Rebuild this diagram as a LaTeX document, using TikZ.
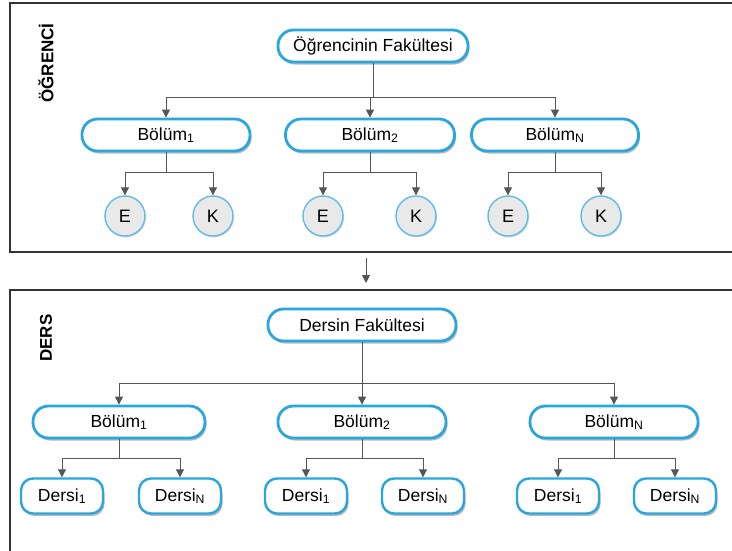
\documentclass[tikz,border=0pt]{standalone}
\usepackage{fontspec}
\setmainfont{Liberation Sans}
\usetikzlibrary{shadows,arrows.meta}
\definecolor{edgeblue}{HTML}{2AA6DE}
\definecolor{lineg}{HTML}{555555}
\definecolor{circfill}{HTML}{E9E9E9}
\definecolor{framec}{HTML}{333333}
\tikzset{
  box/.style={draw=edgeblue, line width=2.8pt, fill=white, rounded corners=15.5pt,
    minimum height=32pt, inner sep=0pt, font=\fontsize{17.5}{20}\selectfont,
    drop shadow={shadow xshift=1.5pt, shadow yshift=-2.5pt, opacity=0.45, fill=black!60}},
  subbox/.style={draw=edgeblue, line width=2.4pt, fill=white, rounded corners=12pt,
    minimum width=82pt, minimum height=35pt, inner sep=0pt, font=\fontsize{17.5}{20}\selectfont,
    drop shadow={shadow xshift=1.5pt, shadow yshift=-2.5pt, opacity=0.45, fill=black!60}},
  leaf/.style={circle, draw=edgeblue!75, line width=1.4pt, fill=circfill, minimum size=40pt,
    inner sep=0pt, font=\fontsize{18}{20}\selectfont,
    drop shadow={shadow xshift=1pt, shadow yshift=-1.5pt, opacity=0.3}},
  conn/.style={draw=lineg, line width=1pt},
  arr/.style={conn, -{Triangle[length=8pt,width=8pt]}},
  frame/.style={draw=framec, line width=1.6pt},
  side/.style={rotate=90, font=\bfseries\fontsize{17}{20}\selectfont}
}
\begin{document}
\begin{tikzpicture}[x=1pt,y=-1pt]
\useasboundingbox (0,0) rectangle (732,550);
% panels
\draw[frame] (740,3) -- (10,3) -- (10,252) -- (740,252);
\draw[frame] (740,290) -- (10,290) -- (10,560);
\node[side] (lab1) at (46,63) {ÖĞRENCİ};
\node[side] (lab2) at (46,338) {DERS};
\coordinate (p1) at (366,258);
\coordinate (p2) at (366,283);
\draw[arr] (p1) -- (p2);

% upper tree
\node[box, minimum width=190pt] (of) at (373,46) {Öğrencinin Fakültesi};
\node[box, minimum width=168pt] (ob1) at (166,135) {Bölüm\textsubscript{1}};
\node[box, minimum width=169pt] (ob2) at (370,135) {Bölüm\textsubscript{2}};
\node[box, minimum width=167pt] (obn) at (555,135) {Bölüm\textsubscript{N}};
\coordinate (oj) at (373,97);
\draw[conn] (of) -- (oj);
\foreach \b in {ob1,ob2,obn}{\draw[arr] (oj) -| (\b.north);}

\foreach \b/\e/\k in {ob1/125/213, ob2/323/416, obn/508/601}{
  \node[leaf] (\b e) at (\e,216) {E};
  \node[leaf] (\b k) at (\k,216) {K};
  \coordinate (\b j) at (\b.south |- 0,172);
  \draw[conn] (\b) -- (\b j);
  \draw[arr] (\b j) -| (\b e.north);
  \draw[arr] (\b j) -| (\b k.north);
}

% lower tree
\node[box, minimum width=188pt] (df) at (362,325) {Dersin Fakültesi};
\node[box, minimum width=172pt] (db1) at (119,422) {Bölüm\textsubscript{1}};
\node[box, minimum width=168pt] (db2) at (362,422) {Bölüm\textsubscript{2}};
\node[box, minimum width=168pt] (dbn) at (614,422) {Bölüm\textsubscript{N}};
\coordinate (dj) at (362,383);
\draw[conn] (df) -- (dj);
\foreach \b in {db1,db2,dbn}{\draw[arr] (dj) -| (\b.north);}

\foreach \b/\p/\q in {db1/62/180, db2/306/423, dbn/558/675}{
  \node[subbox] (\b a) at (\p,496) {Dersi\textsubscript{1}};
  \node[subbox] (\b z) at (\q,496) {Dersi\textsubscript{N}};
  \coordinate (\b j) at (\b.south |- 0,458);
  \draw[conn] (\b) -- (\b j);
  \draw[arr] (\b j) -| (\b a.north);
  \draw[arr] (\b j) -| (\b z.north);
}
\end{tikzpicture}
\end{document}
